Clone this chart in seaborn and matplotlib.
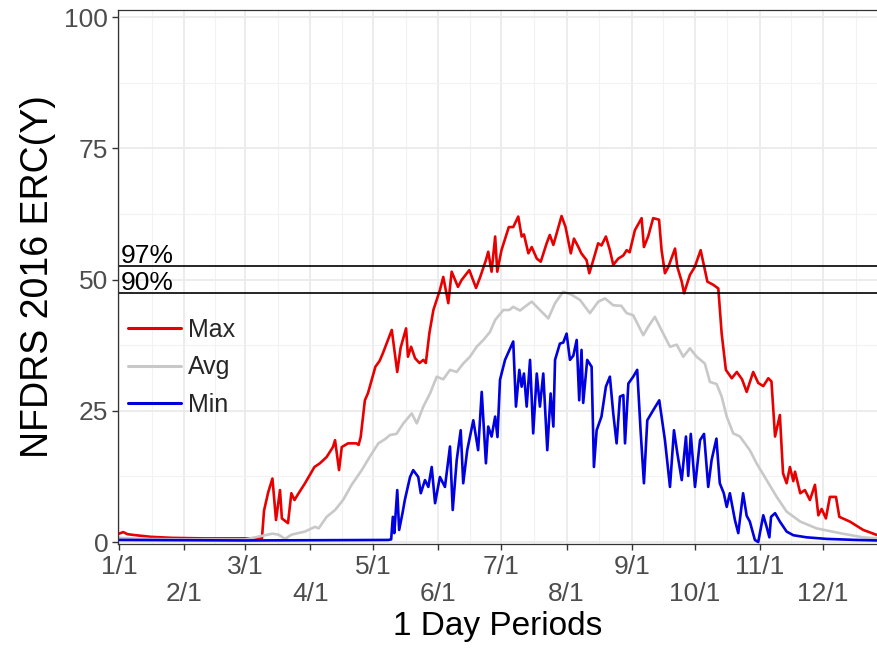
import pandas as pd
import seaborn as sns
import matplotlib.pyplot as plt

sns.set_theme(style="whitegrid")
plt.rcParams["font.family"] = ["Liberation Sans", "DejaVu Sans"]

# =========================
# Data (day of year 2016, ERC value)
# =========================
max_days = [0, 2, 4, 8, 15, 25, 40, 55, 68, 69, 71, 73, 74.7, 76.6, 77.5, 80.4, 82, 83.5, 85,
            88.5, 93, 95.6, 98.8, 101.8, 102.8, 104.7, 106, 109, 113, 114, 115, 117, 118.5,
            122, 124, 125.6, 129.8, 132.4, 134, 136.6, 137.5, 139, 140.9, 143, 144.8, 146,
            147.7, 149.6, 152.7, 154.3, 156.7, 158.3, 161.3, 163, 166.7, 169.9, 171.8, 174.6,
            175.7, 177.3, 179, 180, 182, 185.5, 187.6, 190, 191.6, 192.7, 194.8, 196.4, 198.8,
            200.7, 203.5, 205, 206.7, 210.6, 212.5, 215, 216.5, 218.6, 220, 222.5, 223.8,
            225.7, 228, 229.6, 231.7, 233.6, 235.2, 237.6, 240, 241.6, 243, 245.5, 248.7,
            249.8, 251.8, 254.2, 257, 258.2, 259.8, 261.4, 264.6, 265.7, 267.8, 268.9, 271.7,
            274, 276.8, 280, 282.8, 285.2, 286.8, 288.8, 291.6, 294, 296.5, 298.7, 301.8,
            304.2, 306.6, 309, 310.5, 312.2, 314.5, 316, 317.7, 319.3, 320.9, 321.7, 324.2,
            326.4, 328.8, 331.2, 332.8, 334.4, 336.4, 338.3, 341.2, 342.8, 347.8, 354.2, 361]
max_vals = [1.6, 1.9, 1.5, 1.3, 1.0, 0.8, 0.7, 0.7, 0.7, 6.0, 9.5, 12.1, 4.2, 9.9, 4.5, 3.6, 9.3, 8.0, 9.0,
            11.2, 14.3, 15.0, 16.2, 18.1, 19.4, 13.7, 18.1, 18.8, 18.8, 18.5, 20.0, 27.0, 28.4,
            33.4, 34.5, 36.0, 40.4, 32.4, 37.0, 40.7, 35.3, 37.2, 35.0, 34.1, 34.7, 34.1,
            39.8, 44.2, 48.0, 50.5, 45.5, 51.5, 48.6, 49.9, 51.8, 48.4, 50.4, 53.7,
            55.3, 51.5, 58.2, 51.5, 55.6, 60.0, 60.0, 62.0, 58.2, 58.6, 55.0, 56.2, 54.0,
            53.4, 56.9, 58.5, 56.6, 62.1, 60.0, 55.0, 57.8, 56.2, 55.0, 53.7, 51.2,
            53.7, 56.9, 56.5, 58.2, 55.6, 52.8, 54.0, 54.6, 55.6, 55.2, 59.4, 61.7,
            56.2, 58.2, 61.7, 61.4, 55.6, 51.2, 52.4, 55.9, 52.4, 49.6, 47.4, 50.9,
            52.4, 55.6, 49.6, 49.0, 48.3, 39.7, 32.8, 31.2, 32.4, 31.0, 28.6, 32.4,
            30.3, 29.7, 31.2, 30.6, 20.1, 24.2, 13.1, 11.2, 14.3, 11.6, 13.4, 9.3,
            9.9, 8.0, 10.9, 5.1, 6.3, 4.5, 8.6, 8.6, 4.8, 3.9, 2.3, 1.3]

avg_days = [0, 10, 30, 60, 69.5, 73, 76, 79, 82, 88.5, 93.3, 95, 98.8, 102.8, 106.6, 110.7,
            115.5, 119.4, 123.4, 126.6, 129, 132, 135.3, 139.3, 141.7, 144.8, 148, 151.2,
            154.3, 157.5, 160.7, 163.8, 167, 170.2, 173.4, 176.5, 179, 182.9, 185.7, 187.6,
            190.8, 196.4, 200.3, 204.3, 207.5, 211.4, 215.4, 219.4, 224.1, 228.1, 231.3,
            235.2, 239, 241.6, 244.7, 249.5, 251.8, 255, 259, 262.2, 265.4, 268.5, 271.7,
            274.9, 278.8, 281.2, 284.4, 286.8, 289.2, 292.3, 295.5, 300.2, 303.4, 308.2,
            313, 317.7, 324.2, 332, 343, 354, 361]
avg_vals = [0.8, 0.6, 0.5, 0.5, 1.3, 1.6, 1.4, 0.6, 1.4, 2.0, 2.9, 2.6, 4.8, 6.1, 8.0, 10.9,
            13.7, 16.3, 18.8, 19.6, 20.4, 20.6, 22.6, 24.5, 22.6, 25.8, 28.3, 31.5,
            31.0, 32.8, 32.4, 34.0, 35.3, 37.2, 38.5, 40.0, 42.3, 44.2, 44.2, 44.8,
            44.1, 45.8, 44.2, 42.6, 45.5, 47.7, 47.1, 46.1, 43.6, 45.8, 46.4,
            45.1, 45.0, 43.6, 43.2, 39.4, 41.0, 42.9, 39.7, 37.2, 37.6, 35.3, 36.9,
            35.3, 34.0, 30.5, 30.1, 27.7, 23.9, 20.7, 20.1, 17.5, 15.0, 11.8,
            8.6, 5.8, 3.9, 2.6, 1.7, 0.9, 0.7]

min_days = [0, 60, 128, 129.5, 130.3, 131, 132.4, 133.3, 134.9, 136, 138.5, 140, 142.4, 143.6,
            145.6, 147.2, 148.8, 150.4, 152.7, 155.1, 157.5, 158.8, 160.7, 162.6, 163.8,
            165.7, 168.6, 170.9, 172.6, 174.6, 175.7, 177.3, 179, 180.1, 181.3, 183.7,
            187.6, 188.9, 190.5, 191.6, 192.7, 194, 195.6, 197.1, 198.8, 200.3, 201.9,
            203.8, 205.4, 206.7, 207.5, 209.8, 211.4, 213, 214.6, 216.2, 217.8, 219,
            220.1, 220.9, 222.8, 224.9, 226, 227.3, 229.6, 231.7, 233.6, 235.2, 236.8,
            238.4, 240, 240.8, 242.4, 244.7, 246.6, 248.2, 249.8, 251.4, 254.2, 257.1,
            259.8, 262.2, 264.1, 265.7, 267.8, 269.8, 270.9, 272.1, 274.1, 276.5, 278.4,
            280.4, 282, 284.3, 285.9, 287.8, 289.2, 290.7, 293.1, 294.7, 297, 298.7,
            300.2, 302.6, 304.2, 306.6, 308.2, 309.5, 310.3, 312.2, 314.5, 317.7, 320.9,
            327.2, 336.7, 350.9, 361]
min_vals = [0.4, 0.3, 0.4, 0.5, 4.8, 1.7, 9.9, 2.3, 5.5, 8.0, 12.4, 13.7, 12.4, 9.3,
            11.8, 10.5, 14.3, 7.4, 12.4, 10.5, 18.2, 6.1, 15.6, 21.3, 11.2,
            17.5, 23.2, 17.5, 28.6, 15.0, 22.0, 20.1, 23.9, 20.0, 30.9, 34.7,
            38.2, 25.8, 32.8, 29.6, 32.1, 25.8, 34.7, 20.7, 32.1, 25.8, 32.1,
            17.5, 28.3, 22.0, 34.7, 37.8, 38.0, 39.7, 34.7, 35.5, 38.5, 27.0,
            36.6, 26.5, 34.7, 33.4, 14.3, 21.3, 23.9, 29.6, 31.5, 24.5, 18.8,
            27.7, 28.0, 18.8, 30.2, 31.5, 32.8, 21.3, 11.2, 23.2, 25.1, 27.0,
            19.4, 10.5, 21.3, 16.9, 11.8, 20.1, 12.6, 20.6, 10.5, 19.4, 20.6,
            10.5, 15.6, 19.7, 11.2, 9.3, 6.7, 9.3, 4.2, 1.7, 9.3, 5.0,
            3.9, 0.4, 0.0, 5.1, 2.9, 0.9, 4.8, 5.5, 3.9, 2.0, 1.3,
            0.9, 0.6, 0.4, 0.3]

pct_levels = [52.6, 47.4]
pct_labels = ["97%", "90%"]

month_days = [0, 31, 60, 91, 121, 152, 182, 213, 244, 274, 305, 335]
month_labels = ["1/1", "2/1", "3/1", "4/1", "5/1", "6/1", "7/1", "8/1", "9/1", "10/1", "11/1", "12/1"]

df = pd.concat([
    pd.DataFrame({"day": max_days, "erc": max_vals, "series": "Max"}),
    pd.DataFrame({"day": avg_days, "erc": avg_vals, "series": "Avg"}),
    pd.DataFrame({"day": min_days, "erc": min_vals, "series": "Min"}),
])

# =========================
# Plot
# =========================
fig = plt.figure(figsize=(8.78, 6.53), dpi=100)
ax = fig.add_axes([118 / 878, 0.1675, 760 / 878, 0.8176])

sns.lineplot(
    data=df, x="day", y="erc", hue="series", hue_order=["Max", "Avg", "Min"],
    palette={"Max": "#E80000", "Avg": "#C8C8C8", "Min": "#0000E0"},
    linewidth=1.9, sort=False, estimator=None, ax=ax,
)

for lvl, lab in zip(pct_levels, pct_labels):
    ax.axhline(lvl, color="black", linewidth=1.2)
    ax.text(0.8, lvl + 0.55, lab, fontsize=19, color="black", va="baseline", ha="left")

ax.set_xlim(-0.5, 361.2)
ax.set_ylim(-0.3, 101.4)

ax.set_yticks([0, 25, 50, 75, 100])
ax.set_yticks([12.5, 37.5, 62.5, 87.5], minor=True)
mids = [(a + b) / 2 for a, b in zip(month_days, month_days[1:] + [366])]
ax.set_xticks(month_days)
ax.set_xticks(mids, minor=True)
ax.set_xticklabels([lab if i % 2 == 0 else "\n" + lab for i, lab in enumerate(month_labels)])
for t in ax.get_xticklabels():
    t.set_linespacing(1.15)

ax.grid(which="major", color="#EBEBEB", linewidth=1.3)
ax.grid(which="minor", color="#F2F2F2", linewidth=0.8)
ax.set_axisbelow(True)

ax.tick_params(which="major", length=4, width=1, color="#333333", labelsize=19,
               labelcolor="#4D4D4D", bottom=True, left=True)
ax.tick_params(axis="x", which="major", pad=4)
ax.tick_params(axis="y", which="major", pad=3)
ax.tick_params(which="minor", length=0)

for side in ["left", "bottom", "top"]:
    ax.spines[side].set_color("#333333")
    ax.spines[side].set_linewidth(0.9)
ax.spines["right"].set_visible(False)

ax.set_xlabel("1 Day Periods", fontsize=24, color="black", labelpad=4)
ax.set_ylabel("NFDRS 2016 ERC(Y)", fontsize=27, color="black", labelpad=6)

leg = ax.legend(loc="upper left", bbox_to_anchor=(0.0, 0.441), frameon=False, fontsize=18,
                handlelength=2.1, labelspacing=0.53, handletextpad=0.3, borderaxespad=0.0)
for line in leg.get_lines():
    line.set_linewidth(2.2)

plt.savefig("out.png", dpi=100)
